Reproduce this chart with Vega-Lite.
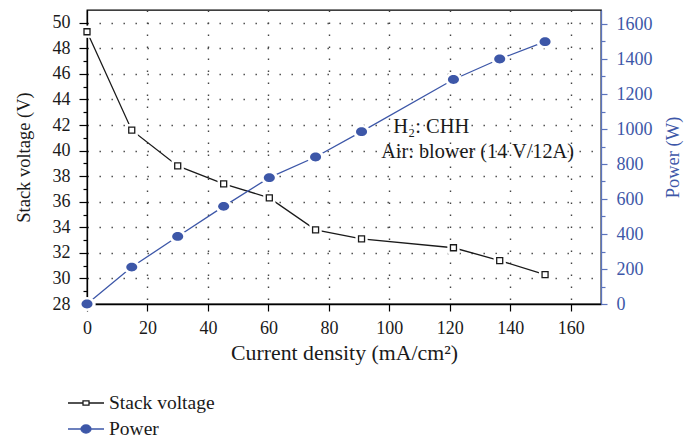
{
  "$schema": "https://vega.github.io/schema/vega-lite/v6.json",
  "width": 514,
  "height": 294,
  "autosize": "none",
  "padding": {"left": 87, "top": 10, "right": 83, "bottom": 134},
  "config": {
    "font": "Liberation Serif",
    "view": {"stroke": "#000", "strokeWidth": 1.3},
    "axis": {
      "labelFont": "Liberation Serif",
      "titleFont": "Liberation Serif",
      "labelFontSize": 18,
      "titleFontSize": 18.5,
      "titleFontWeight": "normal",
      "labelColor": "#1a1a1a",
      "titleColor": "#1a1a1a",
      "domainColor": "#000",
      "domainWidth": 1.3,
      "tickColor": "#000",
      "tickWidth": 1.2,
      "gridColor": "#444",
      "gridWidth": 1.4,
      "gridDash": [1.4, 10.6],
      "labelFlush": false,
      "labelOverlap": false
    },
    "legend": {"labelFont": "Liberation Serif", "labelFontSize": 19.5, "labelColor": "#1a1a1a"}
  },
  "data": {
    "values": [
      {"j": 0, "series": "Stack voltage", "value": 49.3},
      {"j": 14.8, "series": "Stack voltage", "value": 41.6},
      {"j": 30, "series": "Stack voltage", "value": 38.8},
      {"j": 45.2, "series": "Stack voltage", "value": 37.4},
      {"j": 60.3, "series": "Stack voltage", "value": 36.3},
      {"j": 75.6, "series": "Stack voltage", "value": 33.8},
      {"j": 90.8, "series": "Stack voltage", "value": 33.1},
      {"j": 121.2, "series": "Stack voltage", "value": 32.4},
      {"j": 136.5, "series": "Stack voltage", "value": 31.4},
      {"j": 151.5, "series": "Stack voltage", "value": 30.3},
      {"j": 0, "series": "Power", "value": 0},
      {"j": 14.8, "series": "Power", "value": 211},
      {"j": 30, "series": "Power", "value": 386},
      {"j": 45.2, "series": "Power", "value": 558},
      {"j": 60.3, "series": "Power", "value": 722},
      {"j": 75.6, "series": "Power", "value": 840},
      {"j": 90.8, "series": "Power", "value": 985},
      {"j": 121.2, "series": "Power", "value": 1283},
      {"j": 136.5, "series": "Power", "value": 1400},
      {"j": 151.5, "series": "Power", "value": 1499}
    ]
  },
  "layer": [
    {
      "transform": [{"filter": "datum.series === 'Stack voltage'"}],
      "encoding": {
        "x": {
          "field": "j", "type": "quantitative",
          "scale": {"domain": [0, 170], "nice": false, "zero": false},
          "axis": {
            "title": "Current density (mA/cm²)",
            "titleFontSize": 21.8,
            "values": [0, 10, 20, 30, 40, 50, 60, 70, 80, 90, 100, 110, 120, 130, 140, 150, 160],
            "labelExpr": "datum.value % 20 === 0 ? datum.label : ''",
            "tickSize": {"condition": {"test": "datum.value % 20 === 0", "value": 7}, "value": 4},
            "grid": true,
            "gridOpacity": {"condition": {"test": "datum.value % 20 === 0 && datum.value > 0", "value": 1}, "value": 0},
            "labelPadding": 8,
            "titlePadding": 5
          }
        },
        "y": {
          "field": "value", "type": "quantitative",
          "scale": {"domain": [28, 51], "nice": false, "zero": false},
          "axis": {
            "title": "Stack voltage (V)",
            "values": [28, 29, 30, 31, 32, 33, 34, 35, 36, 37, 38, 39, 40, 41, 42, 43, 44, 45, 46, 47, 48, 49, 50],
            "labelExpr": "datum.value % 2 === 0 ? datum.label : ''",
            "tickSize": {"condition": {"test": "datum.value % 2 === 0", "value": 8}, "value": 4},
            "grid": true,
            "gridOpacity": {"condition": {"test": "datum.value % 2 === 0 && datum.value > 28", "value": 1}, "value": 0},
            "labelPadding": 9,
            "titlePadding": 19
          }
        }
      },
      "layer": [
        {
          "mark": {"type": "line", "strokeWidth": 1.3},
          "encoding": {
            "stroke": {"field": "series", "type": "nominal",
              "scale": {"domain": ["Stack voltage", "Power"], "range": ["#1a1a1a", "#3d57a8"]}}
          }
        },
        {"mark": {"type": "point", "shape": "square", "filled": true, "color": "#ffffff", "size": 150, "opacity": 1}},
        {"mark": {"type": "point", "shape": "square", "filled": true, "fill": "#ffffff", "stroke": "#1a1a1a", "strokeWidth": 1.3, "size": 36, "opacity": 1}},
        {
          "transform": [{"filter": "datum.j === 0"}],
          "mark": {"type": "text", "align": "left", "baseline": "middle", "fontSize": 20.5, "font": "Liberation Serif", "color": "#1a1a1a", "text": "H₂: CHH"},
          "encoding": {"x": {"datum": 101.3}, "y": {"datum": 41.85}}
        },
        {
          "transform": [{"filter": "datum.j === 0"}],
          "mark": {"type": "text", "align": "left", "baseline": "middle", "fontSize": 20.3, "font": "Liberation Serif", "color": "#1a1a1a", "text": "Air: blower (14 V/12A)"},
          "encoding": {"x": {"datum": 97.3}, "y": {"datum": 39.9}}
        }
      ]
    },
    {
      "transform": [{"filter": "datum.series === 'Power'"}],
      "encoding": {
        "x": {"field": "j", "type": "quantitative"},
        "y": {
          "field": "value", "type": "quantitative",
          "scale": {"domain": [0, 1680], "nice": false, "zero": false},
          "axis": {
            "orient": "right",
            "title": "Power (W)",
            "values": [0, 100, 200, 300, 400, 500, 600, 700, 800, 900, 1000, 1100, 1200, 1300, 1400, 1500, 1600],
            "labelExpr": "datum.value % 200 === 0 ? datum.label : ''",
            "format": "d",
            "tickSize": {"condition": {"test": "datum.value % 200 === 0", "value": 6}, "value": 4},
            "grid": false,
            "domainColor": "#5b74bd",
            "tickColor": "#5b74bd",
            "labelColor": "#3d57a8",
            "titleColor": "#3d57a8",
            "titleAngle": -90,
            "titleBaseline": "top",
            "labelPadding": 9,
            "titlePadding": 11
          }
        }
      },
      "layer": [
        {
          "mark": {"type": "line", "strokeWidth": 1.3},
          "encoding": {
            "stroke": {"field": "series", "type": "nominal",
              "scale": {"domain": ["Stack voltage", "Power"], "range": ["#1a1a1a", "#3d57a8"]}}
          }
        },
        {"mark": {"type": "point", "shape": "M-1,0A1,0.8 0 1,0 1,0A1,0.8 0 1,0 -1,0Z", "filled": true, "color": "#ffffff", "size": 300, "opacity": 1}},
        {"mark": {"type": "point", "shape": "M-1,0A1,0.8 0 1,0 1,0A1,0.8 0 1,0 -1,0Z", "filled": true, "color": "#3d57a8", "size": 121, "opacity": 1}}
      ]
    },
    {
      "mark": {"type": "point", "opacity": 0, "filled": true},
      "encoding": {
        "stroke": {"field": "series", "type": "nominal",
          "scale": {"domain": ["Stack voltage", "Power"], "range": ["#1a1a1a", "#3d57a8"]},
          "legend": {"title": null, "orient": "none", "legendX": -12, "legendY": 382, "symbolSize": 400, "symbolStrokeWidth": 1.3, "symbolOpacity": 1, "labelOffset": 12, "rowPadding": 5}},
        "fill": {"field": "series", "type": "nominal",
          "scale": {"domain": ["Stack voltage", "Power"], "range": ["#ffffff", "#3d57a8"]},
          "legend": {"title": null, "orient": "none", "legendX": -12, "legendY": 382, "symbolSize": 400, "symbolStrokeWidth": 1.3, "symbolOpacity": 1, "labelOffset": 12, "rowPadding": 5}},
        "shape": {"field": "series", "type": "nominal",
          "scale": {"domain": ["Stack voltage", "Power"], "range": [
            "M-1.8,0H-0.3M0.3,0H1.8M-0.3,-0.22H0.3V0.22H-0.3Z",
            "M-1.8,0H-0.5M0.5,0H1.8M-0.5,0A0.5,0.4 0 1,0 0.5,0A0.5,0.4 0 1,0 -0.5,0Z"
          ]},
          "legend": {"title": null, "orient": "none", "legendX": -12, "legendY": 382, "symbolSize": 400, "symbolStrokeWidth": 1.3, "symbolOpacity": 1, "labelOffset": 12, "rowPadding": 5}}
      }
    }
  ],
  "resolve": {"scale": {"y": "independent"}}
}
